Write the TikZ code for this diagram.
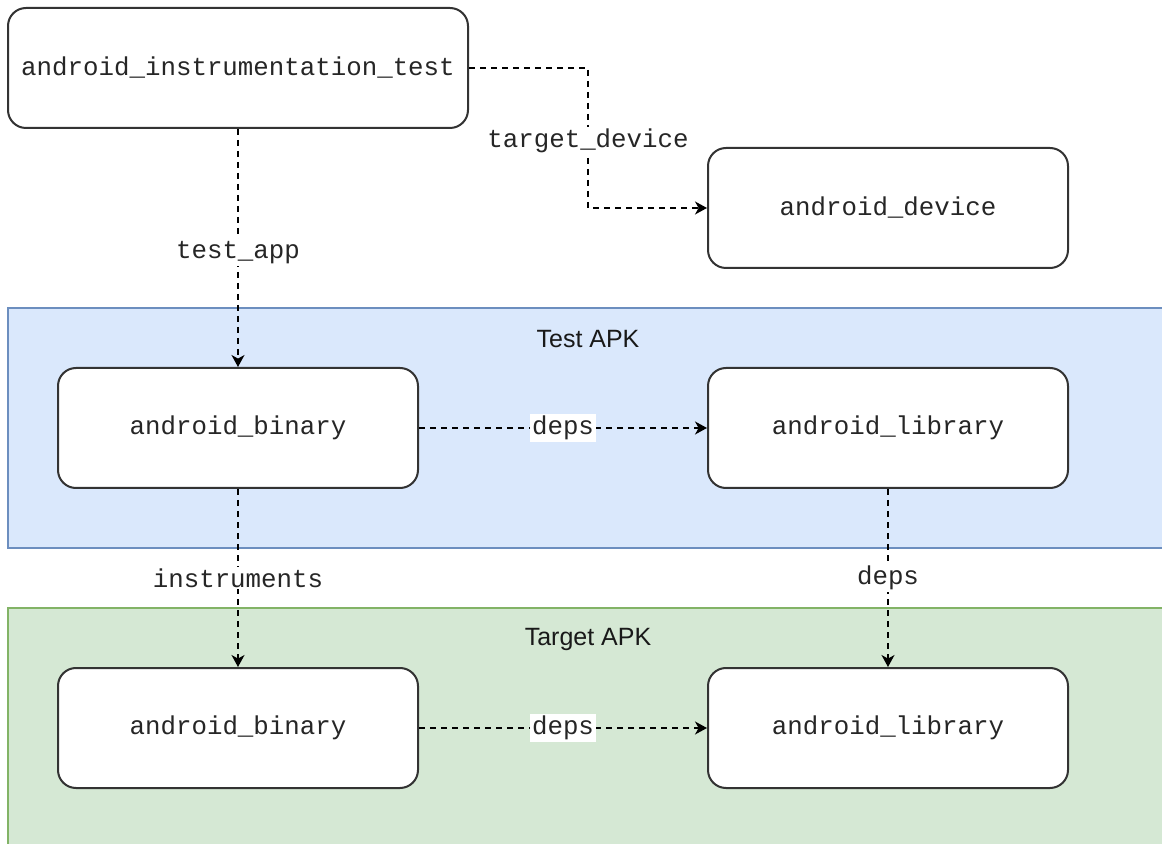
\documentclass[tikz,border=0pt]{standalone}
\usepackage{fontspec}
\setmainfont{Liberation Sans}
\newfontfamily\codefont{Liberation Mono}
\usetikzlibrary{arrows.meta}

\definecolor{testfill}{HTML}{DAE8FC}
\definecolor{testline}{HTML}{6C8EBF}
\definecolor{targetfill}{HTML}{D5E8D4}
\definecolor{targetline}{HTML}{82B366}

\tikzset{
  rule/.style={draw=black!80,line width=1pt,fill=white,rounded corners=9pt,
    minimum width=180pt,minimum height=60pt,inner sep=0pt,
    font=\codefont\fontsize{12.9}{15}\selectfont,text=black!85},
  link/.style={-{Stealth[length=6pt,width=6.5pt,inset=1.8pt]},line width=0.75pt,
    dash pattern=on 3pt off 2.5pt},
  edgelabel/.style={fill=white,inner sep=1pt,
    font=\codefont\fontsize{12.9}{15}\selectfont,text=black!85},
  apklabel/.style={font=\fontsize{12.5}{15}\selectfont,text=black!90},
}

\begin{document}
\begin{tikzpicture}[x=0.5pt,y=-0.5pt]
\useasboundingbox (0,0) rectangle (1162,844);
% the two APK containers
\filldraw[fill=testfill,draw=testline,line width=0.75pt] (8,308) rectangle (1175,548);
\filldraw[fill=targetfill,draw=targetline,line width=0.75pt] (8,608) rectangle (1175,860);
\node[apklabel] (testapk) at (588,339) {Test APK};
\node[apklabel] (targetapk) at (588,639) {Target APK};
% rules
\node[rule,minimum width=230pt] (instr) at (238,68) {android\_instrumentation\_test};
\node[rule] (device) at (888,208) {android\_device};
\node[rule] (testbin) at (238,428) {android\_binary};
\node[rule] (testlib) at (888,428) {android\_library};
\node[rule] (targetbin) at (238,728) {android\_binary};
\node[rule] (targetlib) at (888,728) {android\_library};
\coordinate (turn) at (588,68);
% dependencies
\draw[link] (instr.east) -- (turn) |- node[edgelabel,pos=.26] {target\_device} (device.west);
\draw[link] (instr) -- node[edgelabel,pos=.52] {test\_app} (testbin);
\draw[link] (testbin) -- node[edgelabel] {deps} (testlib);
\draw[link] (testbin) -- node[edgelabel] {instruments} (targetbin);
\draw[link] (testlib) -- node[edgelabel] {deps} (targetlib);
\draw[link] (targetbin) -- node[edgelabel] {deps} (targetlib);
\end{tikzpicture}
\end{document}
